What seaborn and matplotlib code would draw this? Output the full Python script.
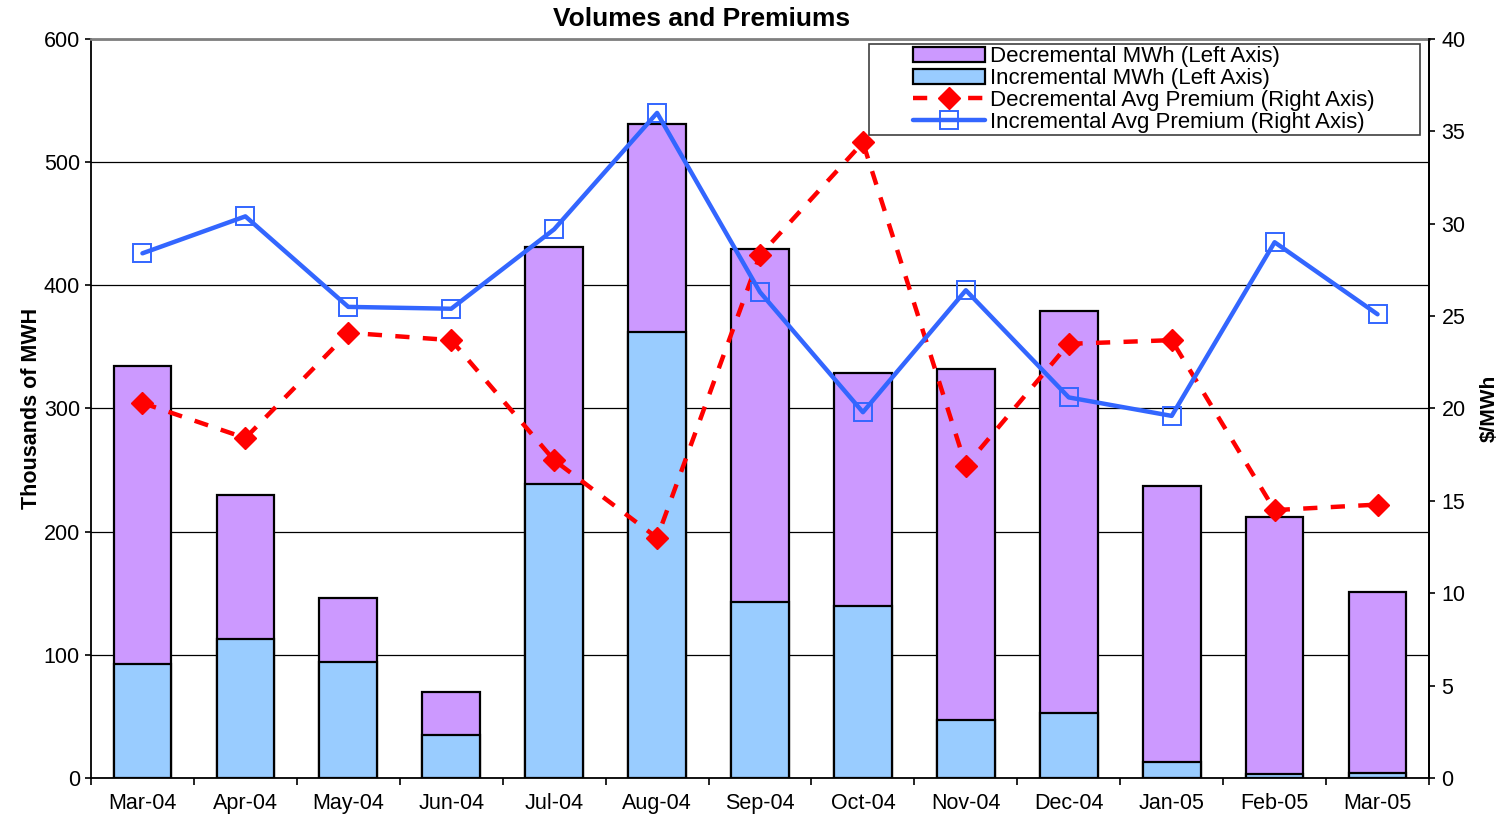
"""
Volumes and Premiums: stacked monthly MWh bars with average premium lines.
"""

import numpy as np
import matplotlib
matplotlib.use("Agg")
import matplotlib.pyplot as plt
import seaborn as sns
from matplotlib.patches import Patch, Rectangle
from matplotlib.ticker import MultipleLocator, FixedLocator

# ============================================================
# Data
# ============================================================
MONTHS = ['Mar-04', 'Apr-04', 'May-04', 'Jun-04', 'Jul-04', 'Aug-04', 'Sep-04',
          'Oct-04', 'Nov-04', 'Dec-04', 'Jan-05', 'Feb-05', 'Mar-05']

# thousands of MWh
INC_MWH = [92.6, 112.9, 94.2, 34.9, 238.7, 362.0, 142.9,
           139.6, 47.0, 52.8, 13.0, 3.0, 4.0]
DEC_MWH = [241.9, 116.9, 51.9, 34.9, 192.3, 169.0, 286.6,
           189.2, 285.0, 326.2, 224.0, 209.0, 147.0]

# $/MWh
DEC_PREMIUM = [20.3, 18.4, 24.1, 23.7, 17.2, 13.0, 28.3,
               34.4, 16.9, 23.5, 23.7, 14.5, 14.8]
INC_PREMIUM = [28.4, 30.4, 25.5, 25.4, 29.7, 36.0, 26.3,
               19.8, 26.4, 20.6, 19.6, 29.0, 25.1]

PURPLE = '#CC99FF'
LIGHT_BLUE = '#99CCFF'
RED = '#FF0000'
LINE_BLUE = '#3366FF'

# ============================================================
# Style
# ============================================================
sns.set_style("white")
plt.rcParams['font.family'] = ['Liberation Sans', 'DejaVu Sans']
plt.rcParams.update({
    'font.size': 15.5,
    'text.color': 'black',
    'axes.labelcolor': 'black',
    'xtick.color': 'black',
    'ytick.color': 'black',
})

fig = plt.figure(figsize=(15.01, 8.17), dpi=100)
ax = fig.add_axes([91 / 1501, 39 / 817, 1338 / 1501, 739 / 817])

x = np.arange(len(MONTHS))
totals = np.array(INC_MWH) + np.array(DEC_MWH)

# Bars: decremental stacked on top of incremental
sns.barplot(x=MONTHS, y=totals, color=PURPLE, saturation=1, width=0.56,
            edgecolor='black', linewidth=1.6, ax=ax, zorder=2)
sns.barplot(x=MONTHS, y=INC_MWH, color=LIGHT_BLUE, saturation=1, width=0.56,
            edgecolor='black', linewidth=1.6, ax=ax, zorder=3)

ax.set_xlim(-0.5, len(MONTHS) - 0.5)
ax.set_ylim(0, 600)
ax.yaxis.set_major_locator(MultipleLocator(100))
ax.yaxis.grid(True, color='black', linewidth=0.9)
ax.set_axisbelow(True)
ax.set_xlabel('')
ax.set_ylabel('Thousands of MWH', fontweight='bold', fontsize=15.5, labelpad=1)

# Excel style: tick marks between categories
ax.xaxis.set_minor_locator(FixedLocator(np.arange(-0.5, len(MONTHS), 1.0)))
ax.tick_params(axis='x', which='major', length=0, pad=11, labelsize=15.5)
ax.tick_params(axis='x', which='minor', length=5, width=1.2, direction='out',
               bottom=True, color='black')
ax.tick_params(axis='y', which='major', length=4, width=1.2, direction='out',
               left=True, color='black', labelsize=15.5, pad=4)

for side in ['left', 'bottom', 'right']:
    ax.spines[side].set_color('black')
    ax.spines[side].set_linewidth(1.3)
ax.spines['top'].set_color('#808080')
ax.spines['top'].set_linewidth(2)

# Premium lines on right axis
ax2 = ax.twinx()
sns.lineplot(x=x, y=DEC_PREMIUM, ax=ax2, color=RED, linewidth=3.2,
             linestyle=(0, (3.2, 3)), marker='D', markersize=11,
             markerfacecolor=RED, markeredgecolor=RED, markeredgewidth=1)
sns.lineplot(x=x, y=INC_PREMIUM, ax=ax2, color=LINE_BLUE, linewidth=3.2,
             marker='s', markersize=13, markerfacecolor='none',
             markeredgecolor=LINE_BLUE, markeredgewidth=1.4)
ax2.set_ylim(0, 40)
ax2.yaxis.set_major_locator(MultipleLocator(5))
ax2.set_ylabel(r'\$/MWh', fontweight='bold', fontsize=15, labelpad=10)
ax2.tick_params(axis='y', which='major', length=4, width=1.2, direction='out',
                right=True, color='black', labelsize=15.5, pad=5)
for side in ax2.spines:
    ax2.spines[side].set_visible(False)
ax2.spines['right'].set_visible(True)
ax2.spines['right'].set_color('black')
ax2.spines['right'].set_linewidth(1.3)

ax.set_title('Volumes and Premiums', fontweight='bold', fontsize=19, pad=9,
             x=(702 - 91) / 1338)

# Legend with Excel-like wide box
lines = ax2.get_lines()
handles = [
    Patch(facecolor=PURPLE, edgecolor='black', linewidth=1.6),
    Patch(facecolor=LIGHT_BLUE, edgecolor='black', linewidth=1.6),
    lines[0],
    lines[1],
]
labels = ['Decremental MWh (Left Axis)', 'Incremental MWh (Left Axis)',
          'Decremental Avg Premium (Right Axis)', 'Incremental Avg Premium (Right Axis)']

box = Rectangle(((869 - 91) / 1338, (778 - 135) / 739), (1420 - 869) / 1338, 91 / 739,
                transform=ax2.transAxes, facecolor='white', edgecolor='#404040',
                linewidth=1.2, zorder=4)
ax2.add_patch(box)
leg = ax2.legend(handles, labels, loc='upper left',
                 bbox_to_anchor=((913 - 91) / 1338, (778 - 46.5) / 739),
                 frameon=False, fontsize=16, borderpad=0, borderaxespad=0,
                 handlelength=3.25, handletextpad=0.2, labelspacing=0.04)
leg.set_zorder(5)

fig.savefig('out.png', dpi=100)
